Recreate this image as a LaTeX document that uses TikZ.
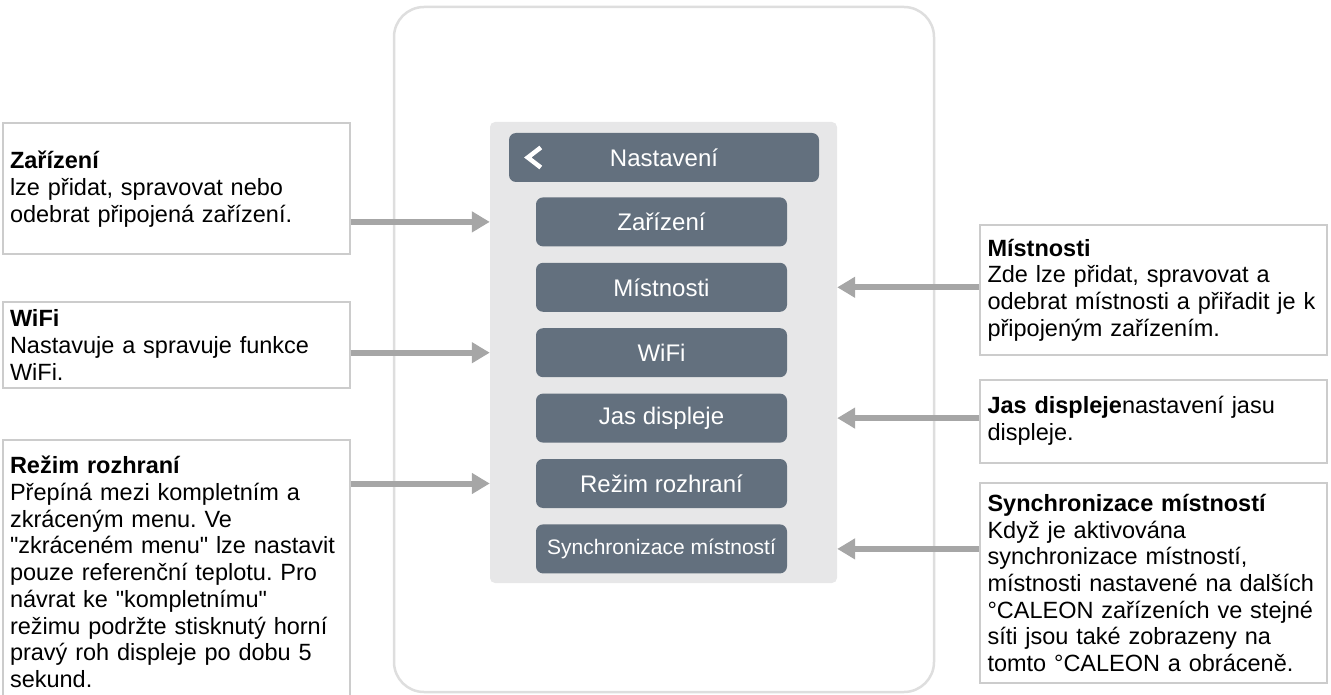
\documentclass[tikz,border=0pt]{standalone}
\usepackage{fontspec}
\setmainfont{Liberation Sans}
\frenchspacing
\definecolor{slate}{RGB}{99, 112, 126}
\definecolor{panelgray}{RGB}{231, 231, 232}
\definecolor{arrowgray}{RGB}{166, 166, 166}
\definecolor{framegray}{RGB}{204, 204, 204}
\usetikzlibrary{arrows.meta}
\usetikzlibrary{positioning}
\newcommand{\descfont}{\fontsize{23.5}{26.7}\selectfont}
\newcommand{\btnfont}{\fontsize{24}{28}\selectfont}
\tikzset{
  device/.style={draw=black!13, line width=2.5pt, rounded corners=30pt,
    minimum width=540pt, minimum height=685pt},
  panel/.style={fill=panelgray, rounded corners=5pt,
    minimum width=347pt, minimum height=461pt},
  menubtn/.style={fill=slate, text=white, rounded corners=7pt,
    minimum width=251pt, minimum height=49pt, font=\btnfont},
  info/.style={draw=framegray, line width=2pt, fill=white,
    text width=332pt, inner xsep=7.5pt, align=left, font=\descfont},
  pointer/.style={-{Triangle[length=18pt,width=20pt]}, draw=arrowgray, line width=6pt},
  chevron/.style={draw=white, line width=4.5pt}
}

\begin{document}
\begin{tikzpicture}[x=1pt, y=-1pt]
  \useasboundingbox (0,0) rectangle (1331,695);

  % the device with its menu
  \node[device] (device) at (664,349.5) {};
  \node[panel] (panel) at (663.5,352.5) {};
  \node[menubtn, minimum width=310pt] (head) at (664,157.5) {Nastavení};
  \draw[chevron] ([xshift=32pt,yshift=10pt]head.west) -- ++(-13,10) -- ++(13,10);
  \node[menubtn, below=15pt of head, xshift=-2.5pt] (zarbtn) {Zařízení};
  \node[menubtn, below=16pt of zarbtn] (misbtn) {Místnosti};
  \node[menubtn, below=16pt of misbtn] (wifibtn) {WiFi};
  \node[menubtn, below=16pt of wifibtn] (jasbtn) {Jas displeje};
  \node[menubtn, below=16pt of jasbtn] (rezbtn) {Režim rozhraní};
  \node[menubtn, below=16pt of rezbtn, font=\fontsize{21}{25}\selectfont] (syncbtn) {Synchronizace místností};

  % left descriptions
  \node[info, minimum height=131pt] (zarinfo) at (176,189)
    {\textbf{Zařízení}\\lze přidat, spravovat nebo\\odebrat připojená zařízení.};
  \node[info, minimum height=86pt] (wifiinfo) at (176,345)
    {\textbf{WiFi}\\Nastavuje a spravuje funkce\\WiFi.};
  \node[info, minimum height=264pt] (rezinfo) at (176,572)
    {\textbf{Režim rozhraní}\\Přepíná mezi kompletním a\\zkráceným menu. Ve\\\textquotedbl zkráceném menu\textquotedbl{} lze nastavit\\pouze referenční teplotu. Pro\\návrat ke \textquotedbl kompletnímu\textquotedbl\\režimu podržte stisknutý horní\\pravý roh displeje po dobu 5\\sekund.};

  % right descriptions
  \node[info, minimum height=130pt] (misinfo) at (1153.5,290)
    {\textbf{Místnosti}\\Zde lze přidat, spravovat a\\odebrat místnosti a přiřadit je k\\připojeným zařízením.};
  \node[info, minimum height=83pt] (jasinfo) at (1153.5,421)
    {\textbf{Jas displeje}nastavení jasu\\displeje.};
  \node[info, minimum height=200pt] (syncinfo) at (1153.5,583)
    {\textbf{Synchronizace místností}\\Když je aktivována\\synchronizace místností,\\místnosti nastavené na dalších\\°CALEON zařízeních ve stejné\\síti jsou také zobrazeny na\\tomto °CALEON a obráceně.};

  % pointers
  \draw[pointer] (zarinfo.east |- zarbtn) -- (panel.west |- zarbtn);
  \draw[pointer] (wifiinfo.east |- wifibtn) -- (panel.west |- wifibtn);
  \draw[pointer] (rezinfo.east |- rezbtn) -- (panel.west |- rezbtn);
  \draw[pointer] (misinfo.west |- misbtn) -- (panel.east |- misbtn);
  \draw[pointer] (jasinfo.west |- jasbtn) -- (panel.east |- jasbtn);
  \draw[pointer] (syncinfo.west |- syncbtn) -- (panel.east |- syncbtn);
\end{tikzpicture}
\end{document}
